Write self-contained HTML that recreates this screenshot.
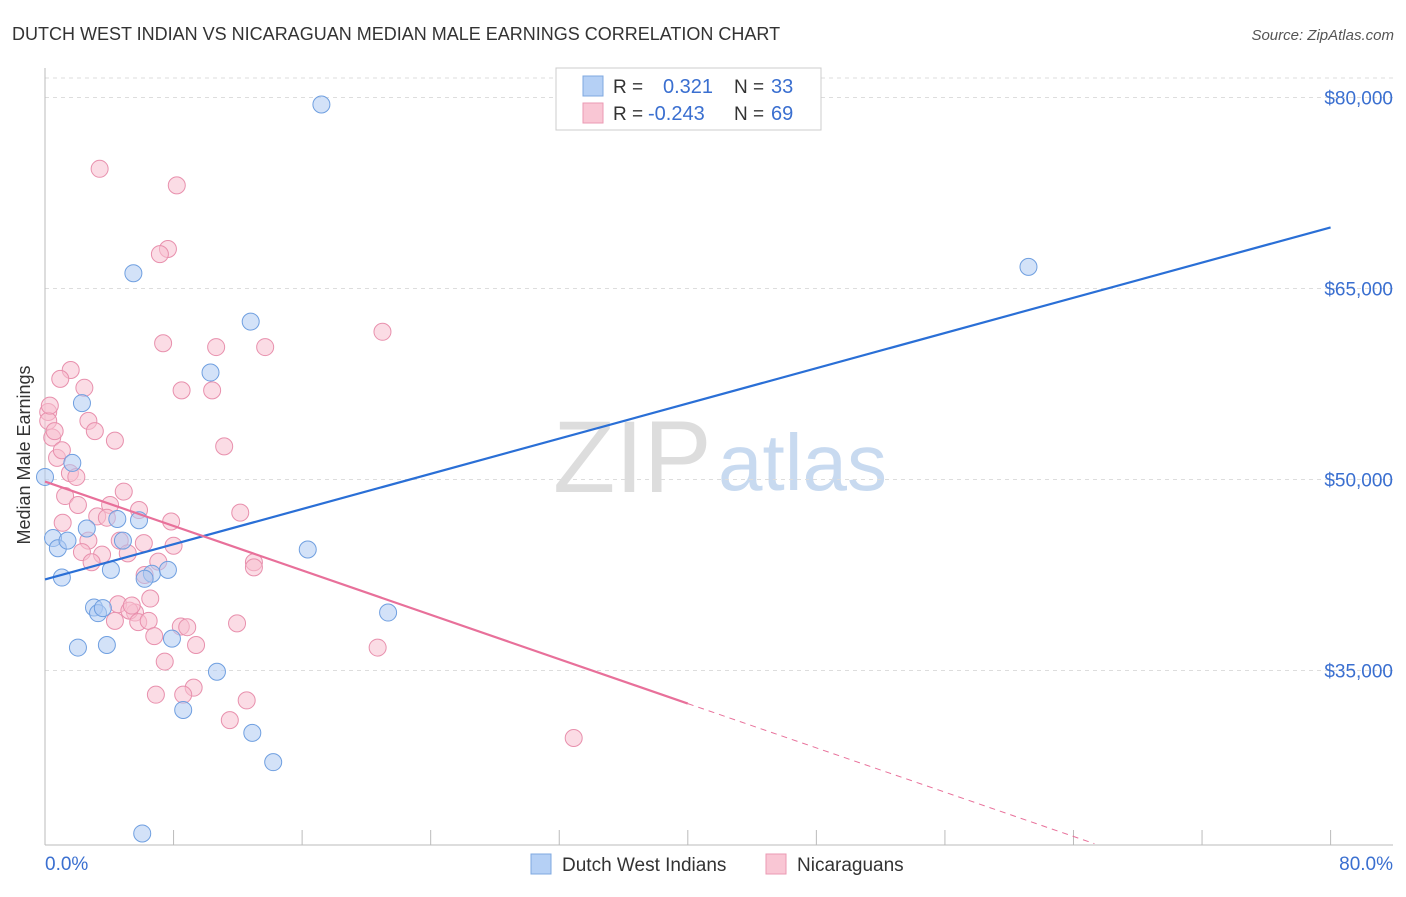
<!DOCTYPE html>
<html><head><meta charset="utf-8"><style>
body{margin:0;background:#fff;font-family:"Liberation Sans",sans-serif}
svg text{font-family:"Liberation Sans",sans-serif}
</style></head><body>
<svg id="chart" width="1406" height="892" xmlns="http://www.w3.org/2000/svg">
<text x="12" y="40" font-size="18" fill="#333">DUTCH WEST INDIAN VS NICARAGUAN MEDIAN MALE EARNINGS CORRELATION CHART</text>
<text x="1394" y="40" font-size="15" fill="#555" text-anchor="end" font-style="italic">Source: ZipAtlas.com</text>
<text x="30" y="455" font-size="18" fill="#333" text-anchor="middle" transform="rotate(-90 30 455)">Median Male Earnings</text>
<text x="553" y="492" font-size="102" fill="#ddd" font-family="Liberation Serif">ZIP</text>
<text x="718" y="490" font-size="80" fill="#c8daf0">atlas</text>
<g id="grid"></g><g id="marks"></g>
<g>
<rect x="556" y="68" width="265" height="62" fill="#fff" stroke="#ccc"/>
<rect x="583" y="76" width="20" height="20" fill="#b5d0f5" stroke="#7fa8e0"/>
<rect x="583" y="103" width="20" height="20" fill="#f9c6d4" stroke="#eb9ab3"/>
<text x="613" y="93" font-size="19" fill="#333">R =</text><text x="663" y="93" font-size="20" fill="#3a6fd0">0.321</text>
<text x="734" y="93" font-size="19" fill="#333">N =</text><text x="771" y="93" font-size="20" fill="#3a6fd0">33</text>
<text x="613" y="120" font-size="19" fill="#333">R =</text><text x="648" y="120" font-size="20" fill="#3a6fd0">-0.243</text>
<text x="734" y="120" font-size="19" fill="#333">N =</text><text x="771" y="120" font-size="20" fill="#3a6fd0">69</text>
</g>
<g>
<rect x="531" y="854" width="20" height="20" fill="#b5d0f5" stroke="#7fa8e0"/>
<text x="562" y="871" font-size="19" fill="#333">Dutch West Indians</text>
<rect x="766" y="854" width="20" height="20" fill="#f9c6d4" stroke="#eb9ab3"/>
<text x="797" y="871" font-size="19" fill="#333">Nicaraguans</text>
</g>
<text x="45" y="870" font-size="19" fill="#3a6fd0">0.0%</text>
<text x="1393" y="870" font-size="19" fill="#3a6fd0" text-anchor="end">80.0%</text>
</svg>
<script>
const yTicks=[80000,65000,50000,35000];
const yTickLabels=["$80,000","$65,000","$50,000","$35,000"];
const blueX=[17.2,5.5,61.2,12.8,10.3,2.3,1.7,0,0.5,0.8,1.4,2.6,4.5,5.85,4.85,4.1,1.05,6.65,7.65,6.2,3.05,3.3,3.6,2.05,3.85,7.9,10.7,8.6,12.9,14.2,6.05,16.35,21.35];
const blueY=[79.45,66.2,66.7,62.4,58.4,56.0,51.3,50.2,45.4,44.6,45.2,46.15,46.9,46.8,45.2,42.9,42.3,42.6,42.9,42.2,39.95,39.5,39.9,36.8,37.0,37.5,34.9,31.9,30.1,27.8,22.2,44.5,39.55];
const pinkX=[3.4,8.2,7.65,7.15,7.35,10.65,13.7,21.0,1.6,0.95,2.45,8.5,10.4,0.2,2.7,3.1,0.45,4.35,11.15,0.75,1.55,1.95,1.25,4.9,2.05,4.05,5.85,12.15,1.1,3.25,3.85,7.85,2.7,4.65,6.15,8.0,2.3,3.55,5.15,7.05,13.0,13.0,2.9,6.2,6.55,4.55,5.6,5.25,5.8,6.45,4.35,8.45,8.85,11.95,6.8,9.4,20.7,7.45,9.25,6.9,8.6,12.55,11.5,32.9,0.2,0.3,0.6,1.05,5.4];
const pinkY=[74.4,73.1,68.1,67.7,60.7,60.4,60.4,61.6,58.6,57.9,57.2,57.0,57.0,55.3,54.6,53.8,53.3,53.05,52.6,51.7,50.5,50.2,48.7,49.05,48.0,48.0,47.6,47.4,46.6,47.1,47.0,46.7,45.2,45.2,45.0,44.8,44.3,44.1,44.2,43.55,43.5,43.1,43.5,42.5,40.65,40.2,39.55,39.7,38.8,38.9,38.9,38.45,38.4,38.7,37.7,37.0,36.8,35.7,33.65,33.1,33.1,32.65,31.1,29.7,54.6,55.8,53.8,52.3,40.1];
const blueTrend=[[0,42.15],[80,69.8]];
const pinkTrend=[[0,49.84],[40,32.4],[65.3,21.4]];
const xs=v=>45+v*16.07, ys=k=>97.5+(80-k)*12.733;
const NS="http://www.w3.org/2000/svg";
const grid=document.getElementById('grid'), marks=document.getElementById('marks');
function mk(tag,attrs,parent){const e=document.createElementNS(NS,tag);for(const k in attrs)e.setAttribute(k,attrs[k]);parent.appendChild(e);return e;}
let g=mk('line',{x1:45,x2:1393,y1:78,y2:78,stroke:'#ddd','stroke-dasharray':'4,4'},grid);


yTicks.forEach((t,i)=>{
 const y=ys(t/1000);
 const l=mk('line',{x1:45,x2:1393,y1:y,y2:y,stroke:'#ddd','stroke-dasharray':'4,4'},grid);
 
 
 const tx=mk('text',{x:1393,y:y+7,'font-size':19,fill:'#3a6fd0','text-anchor':'end'},grid);
 tx.textContent=yTickLabels[i];
 
 
});
let ax=mk('line',{x1:45,x2:45,y1:68,y2:845,stroke:'#bbb'},grid);


let bx=mk('line',{x1:45,x2:1393,y1:845,y2:845,stroke:'#bbb'},grid);


for(let p=0;p<=80;p+=8){const x=xs(p);const t=mk('line',{x1:x,x2:x,y1:830,y2:845,stroke:'#bbb'},grid);
 
 }
function dots(X,Y,fill,stroke,name){X.forEach((v,i)=>{const c=mk('circle',{cx:xs(v),cy:ys(Y[i]),r:8.5,fill:fill,'fill-opacity':0.55,stroke:stroke,'stroke-width':1},marks);
 
 });}
dots(pinkX,pinkY,'#f7bfd0','#e890ad','nicaraguan-point');
dots(blueX,blueY,'#aecbf2','#6f9fe0','dutch-west-indian-point');
let bl=mk('line',{x1:xs(blueTrend[0][0]),y1:ys(blueTrend[0][1]),x2:xs(blueTrend[1][0]),y2:ys(blueTrend[1][1]),stroke:'#2a6fd6','stroke-width':2.2},marks);


let pl=mk('line',{x1:xs(pinkTrend[0][0]),y1:ys(pinkTrend[0][1]),x2:xs(pinkTrend[1][0]),y2:ys(pinkTrend[1][1]),stroke:'#e8709a','stroke-width':2.2},marks);


let pd=mk('line',{x1:xs(pinkTrend[1][0]),y1:ys(pinkTrend[1][1]),x2:xs(pinkTrend[2][0]),y2:ys(pinkTrend[2][1]),stroke:'#e8709a','stroke-width':1,'stroke-dasharray':'6,5'},marks);


</script>
</body></html>
